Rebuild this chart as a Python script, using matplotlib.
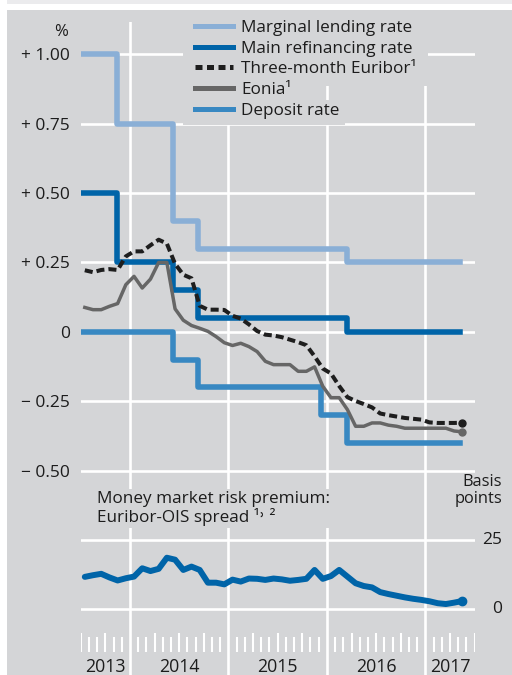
import numpy as np
import pandas as pd
import matplotlib
matplotlib.use('Agg')
import matplotlib.pyplot as plt
import matplotlib.transforms as mtransforms
from matplotlib.lines import Line2D
from matplotlib.patches import Rectangle

plt.rcParams['font.family'] = ['Open Sans', 'DejaVu Sans']

# monthly averages, Jul 2013 - May 2017 (% p.a.)
months = pd.period_range('2013-07', '2017-05', freq='M')

eonia = [0.088, 0.080, 0.080, 0.092, 0.102, 0.170,
         0.200, 0.158, 0.190, 0.250, 0.250, 0.083, 0.042, 0.023, 0.013, 0.002, -0.017, -0.039,
         -0.049, -0.041, -0.053, -0.071, -0.106, -0.118, -0.118, -0.118, -0.142, -0.142, -0.126, -0.196,
         -0.237, -0.237, -0.280, -0.340, -0.340, -0.328, -0.328, -0.336, -0.340, -0.347, -0.347, -0.347,
         -0.347, -0.347, -0.347, -0.357, -0.360]

euribor = [0.222, 0.215, 0.223, 0.226, 0.223, 0.272,
           0.290, 0.290, 0.312, 0.332, 0.318, 0.245, 0.206, 0.193, 0.094, 0.080, 0.080, 0.079,
           0.058, 0.048, 0.027, 0.003, -0.010, -0.013, -0.019, -0.028, -0.037, -0.048, -0.088, -0.132,
           -0.150, -0.195, -0.235, -0.249, -0.260, -0.272, -0.294, -0.300, -0.305, -0.310, -0.313, -0.316,
           -0.326, -0.328, -0.328, -0.328, -0.327]

# Euribor-OIS spread, basis points
spread = [11.7, 12.3, 12.8, 11.5, 10.4, 11.2,
          11.8, 14.8, 13.8, 14.6, 18.6, 17.9, 14.2, 15.4, 14.2, 9.6, 9.6, 9.0,
          10.7, 10.0, 11.1, 11.0, 10.6, 11.1, 10.8, 10.3, 10.6, 11.0, 14.2, 11.0,
          12.0, 14.2, 11.8, 9.4, 8.4, 7.9, 6.2, 5.5, 4.9, 4.3, 3.8, 3.4,
          2.9, 2.2, 1.9, 2.4, 3.0]

# key ECB interest rates (step changes)
rate_dates = ['2013-07-01', '2013-11-13', '2014-06-11', '2014-09-10',
              '2015-12-09', '2016-03-16', '2017-05-10']
marginal_lending = [1.00, 0.75, 0.40, 0.30, 0.30, 0.25, 0.25]
main_refi = [0.50, 0.25, 0.15, 0.05, 0.05, 0.00, 0.00]
deposit = [0.00, 0.00, -0.10, -0.20, -0.30, -0.40, -0.40]

top_ticks = [1.00, 0.75, 0.50, 0.25, 0, -0.25, -0.50]
top_labels = ['+ 1.00', '+ 0.75', '+ 0.50', '+ 0.25', '0', '\u2212 0.25', '\u2212 0.50']
years = [2013, 2014, 2015, 2016, 2017]
legend_labels = ['Marginal lending rate', 'Main refinancing rate',
                 'Three-month Euribor\u00b9', 'Eonia\u00b9', 'Deposit rate']


def dec_year(d):
    d = pd.Timestamp(d)
    return d.year + (d.dayofyear - 1) / (366 if d.is_leap_year else 365)


xm = np.asarray(months.year + (months.month - 0.5) / 12, dtype=float)
xr = [dec_year(d) for d in rate_dates]

bg = '#d4d5d7'
txt = '#1c1c1c'
c_mlf = '#8aafd6'
c_mro = '#0064a8'
c_dep = '#3888c2'
c_eon = '#666666'
c_eur = '#1e1e1e'

xmin, xmax = 2013.5, 2017.5

fig = plt.figure(figsize=(5.12, 6.75), dpi=100, facecolor='white')
fig.add_artist(Rectangle((7 / 512, 0), 1, 665 / 675, transform=fig.transFigure,
                         facecolor=bg, edgecolor='none', zorder=-10))
fig.add_artist(Rectangle((7 / 512, 671 / 675), 1, 4 / 675, transform=fig.transFigure,
                         facecolor='#ebebed', edgecolor='none', zorder=-10))

L = 80.7 / 512
W = (474.6 - 80.7) / 512

# ---- top panel: interest rates
ax1 = fig.add_axes([L, 200 / 675, W, 453 / 675])
ax1.patch.set_visible(False)
for s in ax1.spines.values():
    s.set_visible(False)
ax1.set_xlim(xmin, xmax)
ax1.set_ylim(-0.5155, 1.1162)
ax1.set_yticks(top_ticks)
ax1.set_yticklabels(top_labels)
ax1.set_xticks(years[1:])
ax1.set_xticklabels([])
ax1.tick_params(length=0)
ax1.tick_params(axis='y', pad=7.7, labelsize=12.5, labelcolor=txt)
ax1.grid(color='white', lw=1.9)
ax1.set_axisbelow(True)

# masks behind the legend text
for (x0, y0, x1, y1) in [(183, 22, 428, 86), (183, 86, 300, 100), (183, 100, 345, 125)]:
    ax1.add_patch(Rectangle(((x0 - 80.7) / 393.9, (475 - y1) / 453),
                            (x1 - x0) / 393.9, (y1 - y0) / 453,
                            transform=ax1.transAxes, facecolor=bg, edgecolor='none', zorder=1))

ax1.plot(xr, marginal_lending, drawstyle='steps-post', color=c_mlf, lw=4, zorder=2)
ax1.plot(xr, main_refi, drawstyle='steps-post', color=c_mro, lw=4, zorder=2.1)
ax1.plot(xr, deposit, drawstyle='steps-post', color=c_dep, lw=4, zorder=2.2)
ax1.plot(xm, eonia, color=c_eon, lw=2.5, zorder=3)
ax1.plot(xm[-1], eonia[-1], 'o', color=c_eon, ms=5, zorder=3)
ax1.plot(xm, euribor, color=c_eur, lw=2.9, dashes=(2, 1), zorder=4)
ax1.plot(xm[-1], euribor[-1], 'o', color=c_eur, ms=5, zorder=4)

ax1.text(-0.05, 0.978, '%', transform=ax1.transAxes, ha='center', va='center',
         fontsize=12, color=txt)

handles = [Line2D([], [], color=c_mlf, lw=3.6),
           Line2D([], [], color=c_mro, lw=3.6),
           Line2D([], [], color=c_eur, lw=3.6, dashes=(1.4, 0.9)),
           Line2D([], [], color=c_eon, lw=3.6),
           Line2D([], [], color=c_dep, lw=3.6)]
leg = ax1.legend(handles, legend_labels, loc='upper left', bbox_to_anchor=(0.290, 1.004),
                 frameon=False, borderpad=0, borderaxespad=0, handlelength=2.2,
                 handletextpad=0.5, labelspacing=0.27, fontsize=12.3)
for t in leg.get_texts():
    t.set_color(txt)

# ---- bottom panel: risk premium
ax2 = fig.add_axes([L, 0, W, 200 / 675])
ax2.patch.set_visible(False)
for s in ax2.spines.values():
    s.set_visible(False)
ax2.set_xlim(xmin, xmax)
ax2.set_ylim(-23.7, 48.45)
ax2.set_yticks([0, 25])
ax2.set_yticklabels([])
ax2.set_xticks(years[1:])
ax2.set_xticklabels([])
ax2.tick_params(length=0)
ax2.grid(color='white', lw=1.9)
ax2.set_axisbelow(True)

ax2.plot(xm, spread, color=c_mro, lw=4.3, solid_joinstyle='round', solid_capstyle='round', zorder=3)
ax2.plot(xm[-1], spread[-1], 'o', color=c_mro, ms=6, zorder=3)

bt = mtransforms.blended_transform_factory(ax2.transAxes, ax2.transData)
for v in [25, 0]:
    ax2.text(1.0696, v, str(v), transform=bt, ha='right', va='center', fontsize=12.5, color=txt)
ax2.text(1.0696, 48.8, 'Basis\npoints', transform=bt, ha='right', va='top', fontsize=11.8,
         color=txt, linespacing=1.05, clip_on=False)
ax2.text(0.0414, 42.6, 'Money market risk premium:\nEuribor-OIS spread \u00b9\u02d2 \u00b2',
         transform=bt, ha='left', va='top', fontsize=12.3, color=txt, linespacing=1.05,
         bbox=dict(facecolor=bg, edgecolor='none', pad=1.5), zorder=2)

# monthly tick band
bounds = pd.period_range('2013-07', '2017-07', freq='M')
for p in bounds:
    if p.month == 1:
        continue
    xb = p.year + (p.month - 1) / 12
    lo = p.month in (4, 7, 10)
    ax2.vlines(xb, -15.4, -8.6 if lo else -9.9, color='white', lw=1.5)

for y in years:
    a, b = max(y, xmin), min(y + 1, xmax)
    ax2.text((a + b) / 2, -22.5, str(y), ha='center', va='baseline', fontsize=12.8,
             color=txt, clip_on=False)

fig.savefig('out.png', dpi=100, facecolor=fig.get_facecolor())
